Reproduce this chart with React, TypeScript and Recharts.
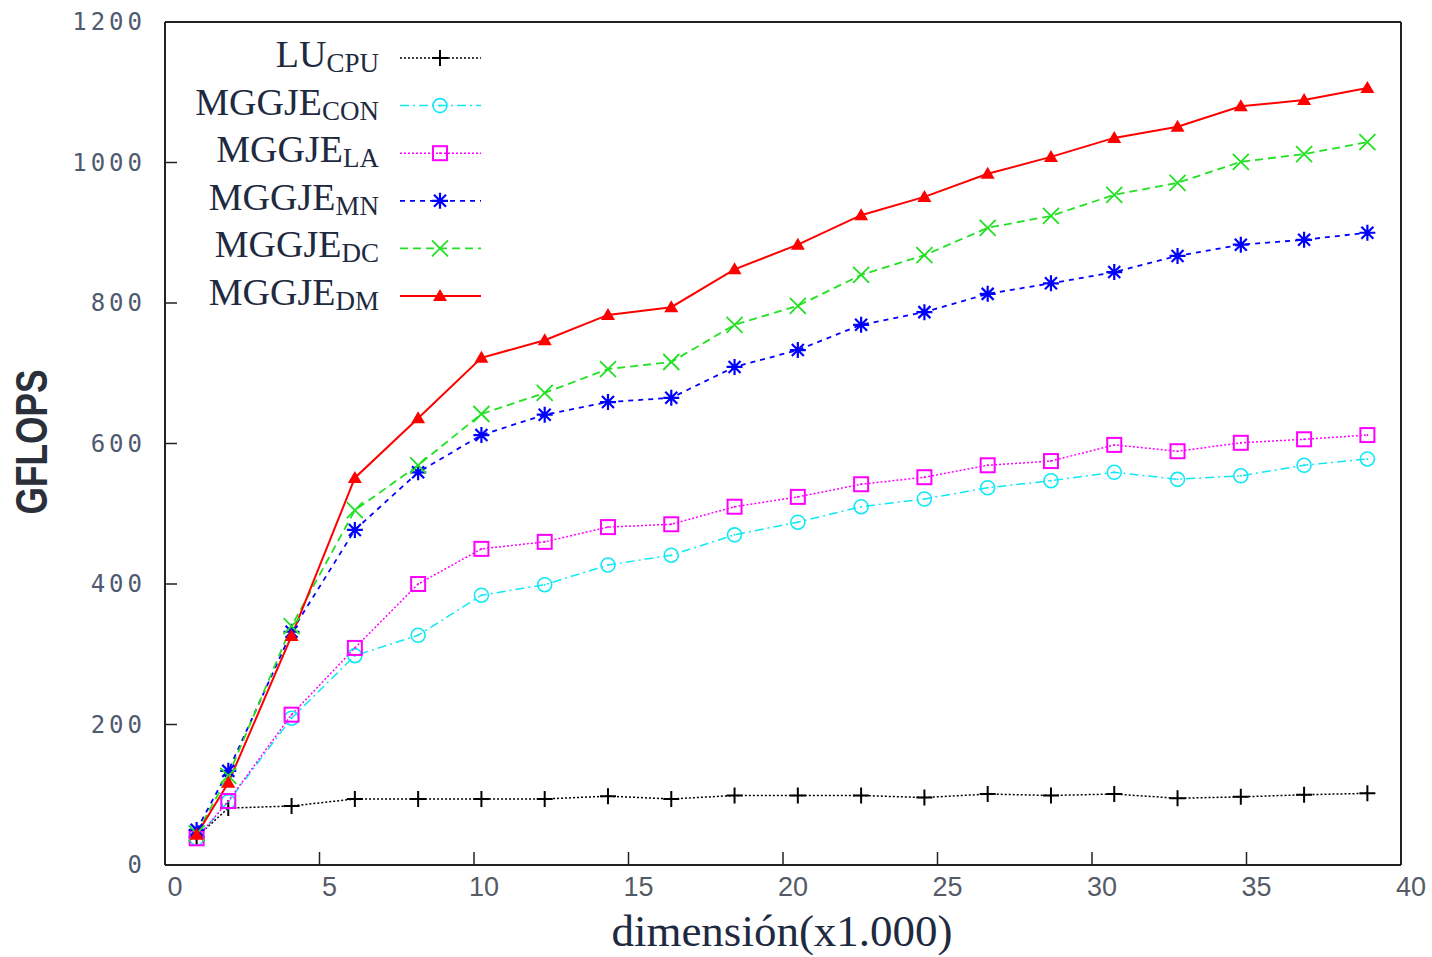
import React from "react";
import { LineChart, Line, XAxis, YAxis, Legend, Label } from "recharts";

// dimension of the matrix (x1.000)
const dims = [
  1.024, 2.048, 4.096, 6.144, 8.192, 10.24, 12.288, 14.336, 16.384, 18.432,
  20.48, 22.528, 24.576, 26.624, 28.672, 30.72, 32.768, 34.816, 36.864, 38.912,
];

// GFLOPS per method
const luCpu = [40, 81, 84, 94, 94, 94, 94, 98, 94, 99, 99, 99, 96, 101, 99, 101, 95, 97, 100, 102];
const mggjeCon = [38, 90, 209, 298, 327, 384, 399, 427, 441, 470, 488, 510, 521, 537, 547, 559, 549, 554, 569, 578];
const mggjeLa = [38, 91, 214, 309, 400, 450, 460, 481, 485, 510, 524, 542, 552, 569, 575, 598, 589, 601, 606, 612];
const mggjeMn = [50, 134, 332, 477, 559, 612, 641, 659, 665, 709, 733, 769, 787, 813, 828, 844, 867, 883, 890, 900];
const mggjeDc = [45, 127, 340, 505, 569, 642, 672, 706, 716, 769, 796, 840, 868, 907, 924, 954, 971, 1001, 1012, 1029];
const mggjeDm = [43, 117, 326, 551, 636, 722, 747, 783, 794, 848, 883, 925, 951, 984, 1008, 1035, 1051, 1080, 1089, 1106];

const xTicks = [0, 5, 10, 15, 20, 25, 30, 35, 40];
const yTicks = [0, 200, 400, 600, 800, 1000, 1200];

const series = [
  { key: "cpu", base: "LU", sub: "CPU", color: "#000000", dash: "2 2", marker: "plus", width: 1.5 },
  { key: "con", base: "MGGJE", sub: "CON", color: "#11e8f5", dash: "9 4 2 4", marker: "circle", width: 1.5 },
  { key: "la", base: "MGGJE", sub: "LA", color: "#ff00ff", dash: "2 2", marker: "square", width: 1.5 },
  { key: "mn", base: "MGGJE", sub: "MN", color: "#0000ff", dash: "5 5", marker: "star", width: 1.8 },
  { key: "dc", base: "MGGJE", sub: "DC", color: "#22e022", dash: "8 5", marker: "cross", width: 1.8 },
  { key: "dm", base: "MGGJE", sub: "DM", color: "#ff0000", dash: undefined, marker: "triangle", width: 2 },
];

const data = dims.map((d, i) => ({
  dim: d,
  cpu: luCpu[i],
  con: mggjeCon[i],
  la: mggjeLa[i],
  mn: mggjeMn[i],
  dc: mggjeDc[i],
  dm: mggjeDm[i],
}));

function Marker({ kind, cx, cy, color }: any) {
  const s = 8;
  switch (kind) {
    case "plus":
      return (
        <path d={`M${cx - s},${cy}H${cx + s}M${cx},${cy - s}V${cy + s}`} stroke={color} strokeWidth={2} fill="none" />
      );
    case "circle":
      return (
        <g>
          <circle cx={cx} cy={cy} r={7} stroke={color} strokeWidth={1.6} fill="none" />
          <circle cx={cx} cy={cy} r={1} fill={color} />
        </g>
      );
    case "square":
      return (
        <g>
          <rect x={cx - 7} y={cy - 7} width={14} height={14} stroke={color} strokeWidth={2} fill="none" />
          <circle cx={cx} cy={cy} r={1} fill={color} />
        </g>
      );
    case "star":
      return (
        <path
          d={`M${cx - s},${cy}H${cx + s}M${cx},${cy - s}V${cy + s}M${cx - 6},${cy - 6}L${cx + 6},${cy + 6}M${cx - 6},${cy + 6}L${cx + 6},${cy - 6}`}
          stroke={color}
          strokeWidth={2.2}
          fill="none"
        />
      );
    case "cross":
      return (
        <path d={`M${cx - 8},${cy - 8}L${cx + 8},${cy + 8}M${cx - 8},${cy + 8}L${cx + 8},${cy - 8}`} stroke={color} strokeWidth={1.8} fill="none" />
      );
    default:
      return <polygon points={`${cx},${cy - 7} ${cx + 7},${cy + 5} ${cx - 7},${cy + 5}`} fill={color} />;
  }
}

function LegendBox() {
  return (
    <svg width={320} height={290} style={{ display: "block" }}>
      {series.map((s, i) => {
        const cy = 28 + i * 47.6;
        return (
          <g key={s.key}>
            <text
              x={199}
              y={cy + 9}
              textAnchor="end"
              fontFamily="'Liberation Serif', serif"
              fontSize={38}
              fill="#1e2a40"
            >
              {s.base}
              <tspan fontSize={27} dy={5}>
                {s.sub}
              </tspan>
            </text>
            <line x1={220} x2={301} y1={cy} y2={cy} stroke={s.color} strokeWidth={s.width} strokeDasharray={s.dash} />
            <Marker kind={s.marker} cx={260} cy={cy} color={s.color} />
          </g>
        );
      })}
    </svg>
  );
}

const YTick = ({ x, y, payload }: any) => (
  <text
    x={x}
    y={y}
    textAnchor="end"
    dominantBaseline="central"
    fontFamily="'DejaVu Sans Mono', monospace"
    fontSize={24}
    letterSpacing={4}
    fill="#4f5a70"
  >
    {payload.value}
  </text>
);

const XTick = ({ x, y, payload }: any) => (
  <text
    x={x + 10}
    y={y}
    textAnchor="middle"
    dominantBaseline="hanging"
    fontFamily="'Liberation Sans', sans-serif"
    fontSize={27}
    fill="#555b66"
  >
    {payload.value}
  </text>
);

export default function App() {
  return (
    <div style={{ position: "absolute", left: 0, top: 0, width: 1432, height: 957, background: "#fff" }}>
      <LineChart width={1432} height={957} data={data} margin={{ top: 21, right: 30, bottom: 0, left: 0 }}>
        <XAxis
          xAxisId="bottom"
          dataKey="dim"
          type="number"
          domain={[0, 40]}
          ticks={xTicks}
          height={92}
          axisLine={{ stroke: "#222", strokeWidth: 2 }}
          tickLine={{ stroke: "#222", strokeWidth: 1.5 }}
          tickSize={-13}
          tickMargin={25}
          tick={<XTick />}
        >
          <Label
            content={() => (
              <text
                x={782}
                y={946}
                textAnchor="middle"
                fontFamily="'Liberation Serif', serif"
                fontSize={45}
                fill="#1e2a40"
              >
                dimensión(x1.000)
              </text>
            )}
          />
        </XAxis>
        <XAxis
          xAxisId="top"
          orientation="top"
          dataKey="dim"
          type="number"
          domain={[0, 40]}
          ticks={xTicks}
          height={1}
          axisLine={{ stroke: "#222", strokeWidth: 2 }}
          tickLine={{ stroke: "#222", strokeWidth: 1.5 }}
          tickSize={-13}
          tick={false}
        />
        <YAxis
          yAxisId="left"
          type="number"
          domain={[0, 1200]}
          ticks={yTicks}
          width={165}
          axisLine={{ stroke: "#222", strokeWidth: 2 }}
          tickLine={{ stroke: "#222", strokeWidth: 1.5 }}
          tickSize={-12}
          tickMargin={31}
          tick={<YTick />}
        >
          <Label
            content={() => (
              <text
                transform="translate(47,442) rotate(-90)"
                textAnchor="middle"
                fontFamily="'Liberation Sans', sans-serif"
                fontWeight="bold"
                fontSize={44}
                textLength={145}
                lengthAdjust="spacingAndGlyphs"
                fill="#2a2f3a"
              >
                GFLOPS
              </text>
            )}
          />
        </YAxis>
        <YAxis
          yAxisId="right"
          orientation="right"
          type="number"
          domain={[0, 1200]}
          ticks={yTicks}
          width={1}
          axisLine={{ stroke: "#222", strokeWidth: 2 }}
          tickLine={{ stroke: "#222", strokeWidth: 1.5 }}
          tickSize={-12}
          tick={false}
        />
        <Legend
          layout="horizontal"
          verticalAlign="middle"
          align="center"
          content={() => <LegendBox />}
          wrapperStyle={{ position: "absolute", left: 180, top: 30, width: 320, height: 290 }}
        />
        {series.map((s) => (
          <Line
            key={s.key}
            xAxisId="bottom"
            yAxisId="left"
            type="linear"
            dataKey={s.key}
            stroke={s.color}
            strokeWidth={s.width}
            strokeDasharray={s.dash}
            isAnimationActive={false}
            dot={(p: any) => <Marker key={`${s.key}-${p.index}`} kind={s.marker} cx={p.cx} cy={p.cy} color={s.color} />}
            activeDot={false}
          />
        ))}
      </LineChart>
    </div>
  );
}
